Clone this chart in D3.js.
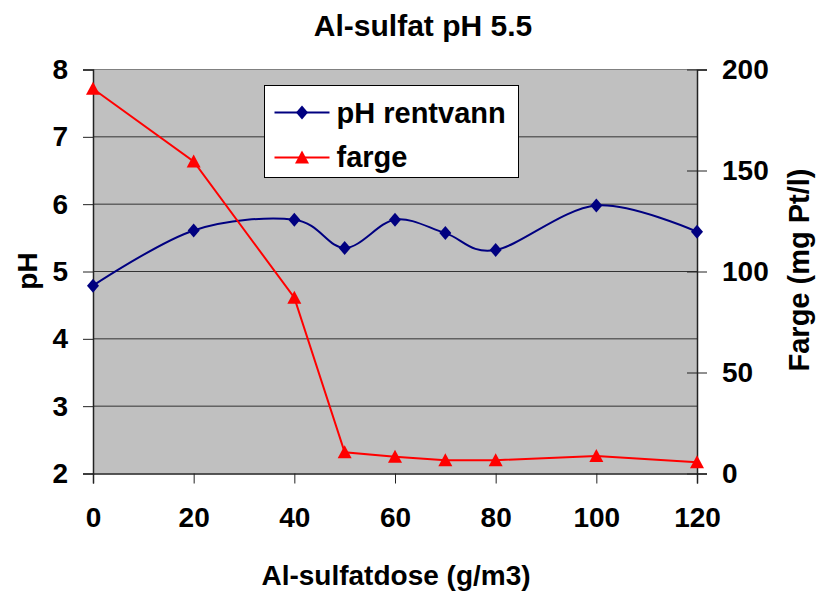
<!DOCTYPE html>
<html>
<head>
<meta charset="utf-8">
<script src="https://cdn.jsdelivr.net/npm/d3@7"></script>
<style>
  body { margin: 0; background: #fff; }
  text { font-family: "Liberation Sans", Arial, sans-serif; font-weight: bold; fill: #000; }
</style>
</head>
<body>
<div id="chart"></div>
<script>
// data
var doses = [0, 20, 40, 50, 60, 70, 80, 100, 120];
var phRentvann = [4.79, 5.61, 5.77, 5.35, 5.77, 5.57, 5.32, 5.98, 5.59];
var farge = [190.5, 154.5, 87, 10.5, 8.3, 6.6, 6.6, 8.7, 5.6];
var xTicks = [0, 20, 40, 60, 80, 100, 120];
var phTicks = [2, 3, 4, 5, 6, 7, 8];
var fargeTicks = [0, 50, 100, 150, 200];

var W = 817, H = 591;
var margin = { top: 69.5, right: 120, bottom: 117.5, left: 93 },
    width = W - margin.left - margin.right,
    height = H - margin.top - margin.bottom;

var svg = d3.select("#chart").append("svg")
    .attr("width", W)
    .attr("height", H);

var g = svg.append("g")
    .attr("transform", "translate(" + margin.left + "," + margin.top + ")");

var x = d3.scaleLinear().domain([0, 120]).range([0, width]);
var y = d3.scaleLinear().domain([2, 8]).range([height, 0]);
var y2 = d3.scaleLinear().domain([0, 200]).range([height, 0]);

// plot background
g.append("rect")
    .attr("width", width)
    .attr("height", height)
    .attr("fill", "#c0c0c0");

// gridlines
g.selectAll(".grid")
    .data(phTicks.filter(function (d) { return d > 2 && d < 8; }))
    .enter().append("line")
    .attr("x1", 0).attr("x2", width)
    .attr("y1", function (d) { return y(d); })
    .attr("y2", function (d) { return y(d); })
    .attr("stroke", "#333")
    .attr("stroke-width", 1);

g.append("line")
    .attr("x1", 0).attr("x2", width)
    .attr("y1", 0).attr("y2", 0)
    .attr("stroke", "#808080");

// axes
var xAxis = g.append("g")
    .attr("transform", "translate(0," + height + ")")
    .call(d3.axisBottom(x).tickValues(xTicks).tickSize(10).tickPadding(24));

var yAxis = g.append("g")
    .call(d3.axisLeft(y).tickValues(phTicks).tickFormat(d3.format("d")).tickSize(10).tickPadding(15));

var y2Axis = g.append("g")
    .attr("transform", "translate(" + width + ",0)")
    .call(d3.axisRight(y2).tickValues(fargeTicks).tickFormat(d3.format("d")).tickSize(10).tickPadding(15));
y2Axis.selectAll(".tick line").attr("x1", -10);

[xAxis, yAxis, y2Axis].forEach(function (a) {
    a.select(".domain").attr("stroke", "#222").attr("stroke-width", 1.5);
    a.selectAll(".tick line").attr("stroke", "#222");
    a.selectAll(".tick text")
        .attr("font-size", "28px")
        .attr("font-family", "Liberation Sans, Arial, sans-serif")
        .attr("font-weight", "bold")
        .attr("fill", "#000");
});

// pH rentvann smoothed line
var phData = doses.map(function (d, i) { return [d, phRentvann[i]]; });
g.append("path")
    .datum(phData)
    .attr("fill", "none")
    .attr("stroke", "#000080")
    .attr("stroke-width", 2)
    .attr("d", d3.line()
        .x(function (d) { return x(d[0]); })
        .y(function (d) { return y(d[1]); })
        .curve(d3.curveCardinal.tension(0)));

g.selectAll(".ph-marker")
    .data(phData)
    .enter().append("path")
    .attr("transform", function (d) { return "translate(" + x(d[0]) + "," + y(d[1]) + ")"; })
    .attr("d", "M0,-7L6,0L0,7L-6,0Z")
    .attr("fill", "#000080");

// farge line
var fargeData = doses.map(function (d, i) { return [d, farge[i]]; });
g.append("path")
    .datum(fargeData)
    .attr("fill", "none")
    .attr("stroke", "#ff0000")
    .attr("stroke-width", 2)
    .attr("d", d3.line()
        .x(function (d) { return x(d[0]); })
        .y(function (d) { return y2(d[1]); }));

g.selectAll(".farge-marker")
    .data(fargeData)
    .enter().append("path")
    .attr("transform", function (d) { return "translate(" + x(d[0]) + "," + y2(d[1]) + ")"; })
    .attr("d", "M0,-7L7,6L-7,6Z")
    .attr("fill", "#ff0000");

// legend
var legend = svg.append("g").attr("transform", "translate(264.5,85.5)");
legend.append("rect")
    .attr("width", 254)
    .attr("height", 92)
    .attr("fill", "#fff")
    .attr("stroke", "#000")
    .attr("stroke-width", 1);

legend.append("line")
    .attr("x1", 10).attr("x2", 65).attr("y1", 27).attr("y2", 27)
    .attr("stroke", "#000080").attr("stroke-width", 2);
legend.append("path")
    .attr("transform", "translate(37.5,27)")
    .attr("d", "M0,-7L6,0L0,7L-6,0Z")
    .attr("fill", "#000080");
legend.append("text")
    .attr("x", 72).attr("y", 27).attr("dy", "0.35em")
    .attr("font-size", "29px")
    .text("pH rentvann");

legend.append("line")
    .attr("x1", 10).attr("x2", 65).attr("y1", 72).attr("y2", 72)
    .attr("stroke", "#ff0000").attr("stroke-width", 2);
legend.append("path")
    .attr("transform", "translate(37.5,72)")
    .attr("d", "M0,-7L7,6L-7,6Z")
    .attr("fill", "#ff0000");
legend.append("text")
    .attr("x", 72).attr("y", 71).attr("dy", "0.35em")
    .attr("font-size", "29px")
    .text("farge");

// titles
svg.append("text")
    .attr("x", 423).attr("y", 25).attr("dy", "0.35em")
    .attr("text-anchor", "middle")
    .attr("font-size", "30px")
    .text("Al-sulfat pH 5.5");

svg.append("text")
    .attr("x", 396).attr("y", 575).attr("dy", "0.35em")
    .attr("text-anchor", "middle")
    .attr("font-size", "28px")
    .text("Al-sulfatdose (g/m3)");

svg.append("text")
    .attr("transform", "translate(27,271) rotate(-90)")
    .attr("dy", "0.35em")
    .attr("text-anchor", "middle")
    .attr("font-size", "28px")
    .text("pH");

svg.append("text")
    .attr("transform", "translate(799,270) rotate(-90)")
    .attr("dy", "0.35em")
    .attr("text-anchor", "middle")
    .attr("font-size", "29px")
    .text("Farge (mg Pt/l)");
</script>
</body>
</html>
